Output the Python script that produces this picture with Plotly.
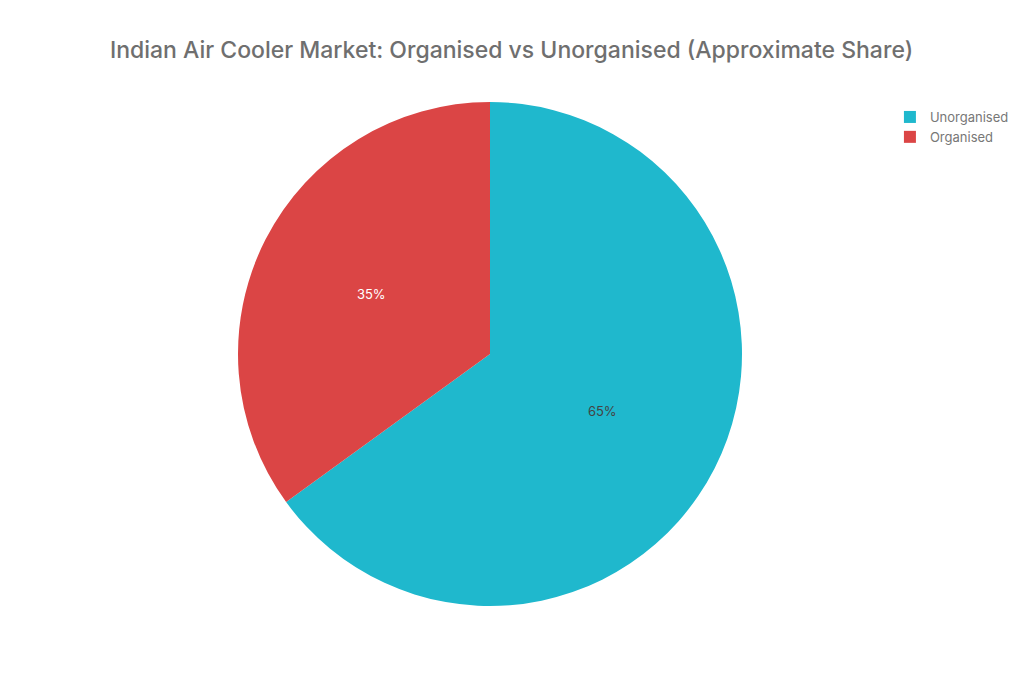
import plotly.graph_objects as go

# Cuota aproximada del mercado
segments = ["Unorganised", "Organised"]
shares = [65, 35]
colors = ["#1FB8CD", "#DB4545"]

fig = go.Figure(data=go.Pie(
    labels=segments,
    values=shares,
    marker=dict(colors=colors),
    textinfo="percent",
    textposition="inside",
    sort=False,
    direction="clockwise",
    textfont=dict(size=13),
))

fig.update_layout(
    title=dict(
        text="Indian Air Cooler Market: Organised vs Unorganised (Approximate Share)",
        x=0.4917, xanchor="center", y=0.9385, yanchor="middle",
        font=dict(size=23, color="#6f6f6f", family="Inter, Roboto, sans-serif",
                  weight=500),
    ),
    font=dict(family="Inter, Roboto, sans-serif", color="#6f6f6f"),
    width=1024, height=683,
    margin=dict(l=104, r=164, t=94, b=85),
    paper_bgcolor="white",
    legend=dict(x=1.029, y=1.0, xanchor="left", yanchor="top",
                font=dict(size=13, color="#777777")),
)

fig.write_html("out.html")
